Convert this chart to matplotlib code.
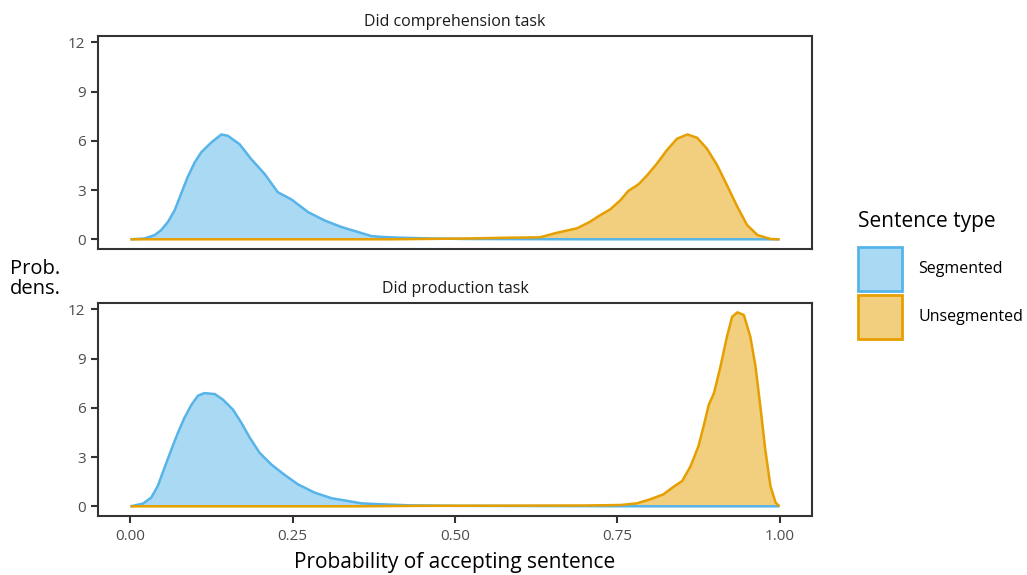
import matplotlib
matplotlib.use("Agg")
import matplotlib.pyplot as plt
from matplotlib.patches import Patch
from matplotlib.colors import to_rgba

plt.rcParams['font.family'] = ['Open Sans', 'DejaVu Sans']

panels = ["Did comprehension task", "Did production task"]
series = ["Segmented", "Unsegmented"]
colors = {"Segmented": "#56B4E9", "Unsegmented": "#E69F00"}

# Comprehension task, Segmented
comp_seg_x = [0.0, 0.0216, 0.037, 0.047, 0.0576, 0.068, 0.078, 0.088, 0.099, 0.109, 0.1245,
              0.14, 0.150, 0.168, 0.186, 0.2068, 0.227, 0.248, 0.2736, 0.299, 0.325,
              0.351, 0.371, 0.389, 0.415, 0.466, 0.52, 0.6, 0.7, 0.8, 0.9, 1.0]
comp_seg_y = [0.0, 0.05, 0.25, 0.55, 1.05, 1.76, 2.77, 3.78, 4.69, 5.3, 5.9,
              6.39, 6.31, 5.8, 4.89, 3.98, 2.87, 2.43, 1.66, 1.15, 0.75,
              0.44, 0.2, 0.14, 0.1, 0.05, 0.02, 0.01, 0.0, 0.0, 0.0, 0.0]
# Comprehension task, Unsegmented
comp_uns_x = [0.0, 0.2, 0.4, 0.45, 0.518, 0.585, 0.631, 0.657, 0.688, 0.708, 0.724,
              0.739, 0.755, 0.767, 0.783, 0.796, 0.811, 0.827, 0.842, 0.858, 0.873,
              0.888, 0.904, 0.919, 0.935, 0.950, 0.966, 0.986, 1.0]
comp_uns_y = [0.0, 0.0, 0.0, 0.02, 0.05, 0.1, 0.12, 0.4, 0.67, 1.07, 1.48,
              1.82, 2.39, 2.95, 3.36, 3.9, 4.61, 5.46, 6.13, 6.39, 6.19,
              5.53, 4.51, 3.3, 1.98, 0.87, 0.26, 0.02, 0.0]
# Production task, Segmented
prod_seg_x = [0.0, 0.019, 0.032, 0.042, 0.0525, 0.063, 0.073, 0.083, 0.094, 0.104, 0.114,
              0.130, 0.1425, 0.158, 0.171, 0.184, 0.199, 0.217, 0.238, 0.258, 0.284,
              0.310, 0.330, 0.356, 0.389, 0.43, 0.5, 0.6, 0.8, 1.0]
prod_seg_y = [0.0, 0.16, 0.53, 1.23, 2.35, 3.46, 4.47, 5.38, 6.19, 6.74, 6.9,
              6.84, 6.5, 5.89, 5.08, 4.17, 3.26, 2.55, 1.9, 1.34, 0.83,
              0.49, 0.36, 0.18, 0.12, 0.06, 0.03, 0.02, 0.0, 0.0]
# Production task, Unsegmented
prod_uns_x = [0.0, 0.2, 0.35, 0.45, 0.6, 0.7, 0.755, 0.780, 0.801, 0.821, 0.837,
              0.850, 0.863, 0.875, 0.883, 0.891, 0.899, 0.909, 0.919, 0.927, 0.935,
              0.945, 0.955, 0.963, 0.971, 0.978, 0.986, 0.994, 1.0]
prod_uns_y = [0.0, 0.0, 0.0, 0.03, 0.04, 0.05, 0.08, 0.18, 0.43, 0.73, 1.2,
              1.54, 2.45, 3.66, 4.88, 6.19, 6.9, 8.52, 10.34, 11.55, 11.82,
              11.66, 10.34, 8.52, 5.89, 3.46, 1.23, 0.22, 0.0]

data = {
    panels[0]: {"Segmented": (comp_seg_x, comp_seg_y), "Unsegmented": (comp_uns_x, comp_uns_y)},
    panels[1]: {"Segmented": (prod_seg_x, prod_seg_y), "Unsegmented": (prod_uns_x, prod_uns_y)},
}

xticks = [0.0, 0.25, 0.5, 0.75, 1.0]
xticklabels = ["0.00", "0.25", "0.50", "0.75", "1.00"]
yticks = [0, 3, 6, 9, 12]

W, H = 1027, 575
fig = plt.figure(figsize=(W / 100, H / 100), dpi=100)

axpos = [(98, 36, 812, 249), (98, 303, 812, 516)]
spine_c = "#333333"
for i, (panel, (l, t, r, b)) in enumerate(zip(panels, axpos)):
    ax = fig.add_axes([l / W, 1 - b / H, (r - l) / W, (b - t) / H])
    for s in series:
        xs, ys = data[panel][s]
        ax.fill_between(xs, 0, ys, color=colors[s], alpha=0.5, linewidth=0)
        ax.plot(xs, ys, color=colors[s], lw=1.8, solid_capstyle='butt', solid_joinstyle='round')
    ax.set_xlim(-0.05, 1.05)
    ax.set_ylim(-0.59, 12.39)
    ax.set_yticks(yticks)
    ax.set_yticklabels([str(v) for v in yticks])
    for sp in ax.spines.values():
        sp.set_color(spine_c)
        sp.set_linewidth(1.5)
    ax.tick_params(axis='both', direction='out', length=5, width=1.5, color=spine_c,
                   labelcolor="#4d4d4d", labelsize=11, pad=4)
    if i == 0:
        ax.set_xticks([])
    else:
        ax.set_xticks(xticks)
        ax.set_xticklabels(xticklabels)
        ax.set_xlabel("Probability of accepting sentence", fontsize=15, color="black", labelpad=6)
    ax.set_title(panel, fontsize=11.5, color="#1a1a1a", pad=7)

fig.text(10 / W, 1 - 279 / H, "Prob.\ndens.", fontsize=14.5, ha='left', va='center',
         linespacing=0.95)

fig.text(858 / W, 1 - 222 / H, "Sentence type", fontsize=15, ha='left', va='center')

handles = [Patch(facecolor=to_rgba(colors[s], 0.5), edgecolor=colors[s], linewidth=2,
                 label=s) for s in series]
leg = fig.legend(handles=handles, loc='upper left', bbox_to_anchor=(858 / W, 1 - 247 / H),
                 frameon=False, fontsize=11.5,
                 handlelength=2.76, handleheight=3.86, labelspacing=0.25, handletextpad=1.0,
                 borderpad=0.0, borderaxespad=0.0)

fig.savefig("out.png", dpi=100)
